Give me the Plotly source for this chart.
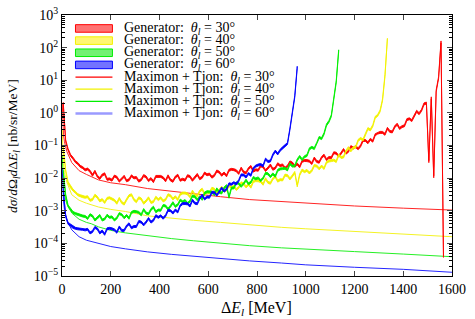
import plotly.graph_objects as go

# ---------------- data ----------------
BIN_WIDTH = 10  # MeV, generator histogram bins (centres at 5, 15, 25, ...)

red_gen = [
    2.0, 0.14, 0.075, 0.05, 0.041, 0.032, 0.028, 0.023, 0.021, 0.018,
    0.019, 0.0163, 0.0123, 0.0162, 0.0114, 0.0098, 0.0125, 0.0136, 0.0092, 0.0095,
    0.0087, 0.0116, 0.0107, 0.0081, 0.0094, 0.0114, 0.0083, 0.0089, 0.0118, 0.0102,
    0.0105, 0.0081, 0.009, 0.012, 0.0109, 0.0084, 0.0097, 0.0078, 0.0113, 0.0116,
    0.0113, 0.0103, 0.0083, 0.0118, 0.0088, 0.008, 0.0108, 0.0123, 0.0086, 0.0093,
    0.0087, 0.0119, 0.0112, 0.0086, 0.0104, 0.013, 0.0096, 0.0106, 0.0144, 0.0127,
    0.0134, 0.0107, 0.0121, 0.0166, 0.0153, 0.0123, 0.0144, 0.0118, 0.0175, 0.0186,
    0.0182, 0.017, 0.014, 0.0203, 0.0155, 0.0144, 0.0197, 0.0229, 0.0164, 0.018,
    0.0175, 0.0238, 0.0222, 0.0171, 0.0204, 0.0253, 0.0187, 0.0204, 0.0276, 0.0242,
    0.0255, 0.0203, 0.0231, 0.0315, 0.0291, 0.0231, 0.0272, 0.0222, 0.0329, 0.0348,
    0.0345, 0.0331, 0.0281, 0.0414, 0.0324, 0.0308, 0.0429, 0.0506, 0.037, 0.0428,
    0.0423, 0.06, 0.0583, 0.0473, 0.0582, 0.0755, 0.0585, 0.0662, 0.0927, 0.084,
    0.0918, 0.0798, 0.0977, 0.143, 0.143, 0.122, 0.155, 0.136, 0.215, 0.24,
    0.253, 0.252, 0.221, 0.336, 0.27, 0.262, 0.374, 0.45, 0.334, 0.38,
    0.405, 0.624, 0.66, 0.581, 0.776, 1.12, 0.946, 1.2, 1.89, 2.0,
    0.032, 2.9, 0.011, 4.7, 12.0, 150.0, 4.0e-5,
]

yellow_gen = [
    0.09, 0.017, 0.0073, 0.0054, 0.0043, 0.0037, 0.0031, 0.0029, 0.0027, 0.0026,
    0.0027, 0.0021, 0.0022, 0.0030, 0.0026, 0.0020, 0.0022, 0.0018, 0.0024, 0.0025,
    0.0023, 0.0021, 0.0017, 0.0024, 0.0018, 0.0016, 0.0022, 0.0029, 0.0031, 0.0022,
    0.0019, 0.0025, 0.0023, 0.0017, 0.0020, 0.0025, 0.0018, 0.0019, 0.0026, 0.0022,
    0.0025, 0.0020, 0.0022, 0.0031, 0.0029, 0.0023, 0.0027, 0.0022, 0.0032, 0.0035,
    0.0035, 0.0033, 0.0027, 0.0040, 0.0031, 0.0029, 0.0040, 0.0046, 0.0033, 0.0037,
    0.0036, 0.0049, 0.0046, 0.0036, 0.0043, 0.0053, 0.0040, 0.0043, 0.0059, 0.0053,
    0.0056, 0.0045, 0.0052, 0.0072, 0.0067, 0.0054, 0.0064, 0.0053, 0.0079, 0.0084,
    0.0083, 0.0079, 0.0065, 0.0096, 0.0074, 0.0070, 0.0096, 0.0113, 0.0081, 0.0090,
    0.0088, 0.0124, 0.0120, 0.0095, 0.0117, 0.0150, 0.0058, 0.0128, 0.0177, 0.0158,
    0.0173, 0.0144, 0.0171, 0.0243, 0.0235, 0.0193, 0.0235, 0.0198, 0.0304, 0.0336,
    0.0345, 0.0357, 0.0323, 0.0516, 0.0432, 0.0443, 0.0671, 0.0863, 0.0686, 0.0855,
    0.090, 0.144, 0.165, 0.149, 0.223, 0.330, 0.301, 0.405, 0.732, 0.84,
    1.15, 2.5, 14.0, 180.0,
]

green_gen = [
    0.017, 0.003, 0.0014, 0.0011, 0.00089, 0.00082, 0.00076, 0.00072, 0.00069, 0.00067,
    0.00058, 0.00076, 0.00069, 0.00052, 0.0006, 0.00072, 0.00052, 0.00056, 0.00073, 0.00063,
    0.00065, 0.00052, 0.0006, 0.00082, 0.00076, 0.00061, 0.00072, 0.00059, 0.00089, 0.00096,
    0.00094, 0.00089, 0.00075, 0.00109, 0.00085, 0.0008, 0.0011, 0.00129, 0.00093, 0.00105,
    0.00104, 0.00145, 0.00141, 0.00112, 0.00138, 0.00177, 0.00136, 0.00153, 0.00212, 0.00189,
    0.00205, 0.00168, 0.00195, 0.00285, 0.00269, 0.00218, 0.0027, 0.00224, 0.00348, 0.00384,
    0.0038, 0.0037, 0.0031, 0.0047, 0.0037, 0.0035, 0.005, 0.0059, 0.0026, 0.005,
    0.005, 0.0072, 0.0069, 0.0056, 0.0068, 0.0087, 0.0067, 0.0075, 0.0105, 0.0095,
    0.0102, 0.0084, 0.01, 0.0141, 0.0136, 0.0111, 0.0135, 0.0114, 0.0174, 0.0192,
    0.0196, 0.02, 0.0179, 0.0276, 0.0234, 0.0238, 0.0363, 0.0463, 0.037, 0.0456,
    0.0495, 0.0792, 0.088, 0.0805, 0.116, 0.177, 0.163, 0.23, 0.427, 0.546,
    0.82, 2.6, 9.0, 80.0,
]

blue_gen = [
    0.0045, 0.0007, 0.00041, 0.00036, 0.00031, 0.00029, 0.00028, 0.00027, 0.00027, 0.00026,
    0.00027, 0.00021, 0.00023, 0.00031, 0.00028, 0.00021, 0.00024, 0.00019, 0.00028, 0.00029,
    0.00028, 0.00026, 0.00022, 0.00032, 0.00025, 0.00025, 0.00034, 0.0004, 0.0003, 0.00033,
    0.00033, 0.00047, 0.00045, 0.00037, 0.00045, 0.00058, 0.00045, 0.00051, 0.00071, 0.00063,
    0.0007, 0.00059, 0.00071, 0.00103, 0.00101, 0.00085, 0.00106, 0.00092, 0.00145, 0.00166,
    0.00167, 0.00163, 0.0014, 0.00212, 0.00171, 0.00164, 0.00242, 0.003, 0.00229, 0.00266,
    0.0026, 0.0037, 0.0037, 0.003, 0.0038, 0.005, 0.004, 0.0046, 0.0067, 0.0065,
    0.0073, 0.0066, 0.0084, 0.0126, 0.0125, 0.0108, 0.0138, 0.0122, 0.02, 0.0234,
    0.0253, 0.0263, 0.0238, 0.0384, 0.0324, 0.0336, 0.0517, 0.0675, 0.0554, 0.0722,
    0.085, 0.098, 0.115, 0.32, 0.9, 3.2, 25.0,
]

# Maximon + Tjon curves
theory_E = [1, 3, 6, 10, 20, 40, 70, 100, 120, 150, 200, 260, 350, 450, 540,
            650, 770, 900, 1000, 1200, 1400, 1600]
red_th = [2.0, 0.5, 0.22, 0.13, 0.065, 0.03, 0.017, 0.013, 0.011, 0.0088, 0.0072,
          0.0063, 0.0048, 0.0039, 0.0033, 0.0027, 0.0022, 0.0019, 0.0017, 0.0014,
          0.0012, 0.00105]
yellow_th = [0.3, 0.07, 0.028, 0.015, 0.0075, 0.0031, 0.0021, 0.0017, 0.0015, 0.0013,
             0.0011, 0.00095, 0.0007, 0.00058, 0.00051, 0.00044, 0.00037, 0.00031,
             0.00028, 0.00023, 0.00019, 0.00016]
green_th = [0.05, 0.012, 0.005, 0.003, 0.0016, 0.00085, 0.00055, 0.00044, 0.0004,
            0.00032, 0.00025, 0.00021, 0.00017, 0.00014, 0.00012, 0.0001, 0.000085,
            0.000073, 0.000066, 0.000056, 0.000047, 0.000039]
blue_th = [0.02, 0.005, 0.002, 0.0011, 0.0005, 0.00026, 0.00016, 0.000125, 0.000115,
           0.0001, 0.00008, 0.000068, 0.000055, 0.000046, 0.00004, 0.000034, 0.000029,
           0.000025, 0.000022, 0.0000185, 0.000016, 0.000013]

angles = ["30", "40", "50", "60"]
REL_ERR = 0.07  # half-width of the generator error band

x_ticks = [0, 200, 400, 600, 800, 1000, 1200, 1400, 1600]
y_exps = [-5, -4, -3, -2, -1, 0, 1, 2, 3]

# ---------------- figure ----------------
FONT = "Liberation Serif"
colors = ["#ff0000", "#f2f200", "#00ee00", "#0000ff"]
fills = ["rgba(255,0,0,0.55)", "rgba(255,240,0,0.55)", "rgba(0,230,0,0.55)", "rgba(0,0,255,0.55)"]
gens = [red_gen, yellow_gen, green_gen, blue_gen]
ths = [red_th, yellow_th, green_th, blue_th]

fig = go.Figure()

for th, c in zip(ths, colors):
    fig.add_trace(go.Scatter(x=theory_E, y=th, mode="lines",
                             line=dict(color=c, width=1), opacity=0.85,
                             showlegend=False, hoverinfo="skip"))

for g, c, f in zip(gens, colors, fills):
    E = [BIN_WIDTH / 2 + BIN_WIDTH * i for i in range(len(g))]
    hi = [v * (1 + REL_ERR) for v in g]
    lo = [v * (1 - REL_ERR) for v in g]
    fig.add_trace(go.Scatter(x=E + E[::-1], y=hi + lo[::-1], mode="lines",
                             fill="toself", fillcolor=c,
                             line=dict(color=c, width=0.9),
                             showlegend=False, hoverinfo="skip"))

# ---- hand-made legend (tight row spacing like the original) ----
PX_L, PX_R, PX_T, PX_B = 62, 452.5, 14.5, 276.5
W, H = PX_R - PX_L, PX_B - PX_T
def px_x(p): return (p - PX_L) / W
def px_y(p): return (PX_B - p) / H

row_y = [28, 40.2, 52.4, 64.6, 76.8, 89.0, 101.2, 113.4]
sw_x0, sw_x1, txt_x = 75.5, 112.5, 122.5
labels = ([f"Generator:&nbsp; <i>θ<sub>l</sub></i> = {a}°" for a in angles] +
          [f"Maximon + Tjon:&nbsp; <i>θ<sub>l</sub></i> = {a}°" for a in angles])
for i in range(8):
    yc = row_y[i]
    if i < 4:
        fig.add_shape(type="rect", xref="paper", yref="paper",
                      x0=px_x(sw_x0), x1=px_x(sw_x1), y0=px_y(yc + 3.8), y1=px_y(yc - 3.8),
                      fillcolor=fills[i], line=dict(color=colors[i], width=1))
    else:
        c = colors[i - 4]
        wdt = 1.2
        if i == 7:
            c, wdt = "#9a9aff", 2.5
        fig.add_shape(type="line", xref="paper", yref="paper",
                      x0=px_x(sw_x0), x1=px_x(sw_x1), y0=px_y(yc), y1=px_y(yc),
                      line=dict(color=c, width=wdt))
    fig.add_annotation(x=px_x(txt_x), y=px_y(yc), xref="paper", yref="paper",
                       text=labels[i], showarrow=False, xanchor="left", yanchor="middle",
                       font=dict(family=FONT, size=14, color="black"))

# axis titles
fig.add_annotation(x=px_x(257), y=px_y(309), xref="paper", yref="paper",
                   text="Δ<i>E<sub>l</sub></i> [MeV]", showarrow=False,
                   xanchor="center", yanchor="middle",
                   font=dict(family=FONT, size=16, color="black"))
fig.add_annotation(x=px_x(14), y=px_y(146), xref="paper", yref="paper",
                   text="<i>dσ</i>/<i>d</i>Ω<sub><i>l</i></sub><i>d</i>Δ<i>E<sub>l</sub></i> [nb/sr/MeV]",
                   showarrow=False, textangle=-90, xanchor="center", yanchor="middle",
                   font=dict(family=FONT, size=13.5, color="black"))

minor_vals = [m * 10 ** e for e in range(-5, 3) for m in range(2, 10)]

fig.update_layout(
    width=475, height=319,
    margin=dict(l=PX_L, r=475 - PX_R, t=PX_T, b=319 - PX_B, autoexpand=False),
    paper_bgcolor="white", plot_bgcolor="white",
    font=dict(family=FONT, size=14, color="black"),
    showlegend=False,
    xaxis=dict(range=[0, 1600], tickvals=x_ticks, ticks="inside", ticklen=5,
               showline=True, linecolor="black", linewidth=1, mirror="ticks",
               showgrid=False, zeroline=False, automargin=False,
               tickfont=dict(family=FONT, size=14)),
    yaxis=dict(type="log", range=[-5, 3],
               tickvals=[10.0 ** e for e in y_exps],
               ticktext=[f"10<sup>{'−' if e < 0 else ''}{abs(e)}</sup>" for e in y_exps],
               ticks="inside", ticklen=5,
               minor=dict(tickvals=minor_vals, ticks="inside", ticklen=3, tickcolor="black"),
               showline=True, linecolor="black", linewidth=1, mirror="ticks",
               showgrid=False, zeroline=False, automargin=False,
               tickfont=dict(family=FONT, size=14)),
)

fig.write_html("out.html", config={"displayModeBar": False},
               post_script="document.body.style.margin='0px';")
